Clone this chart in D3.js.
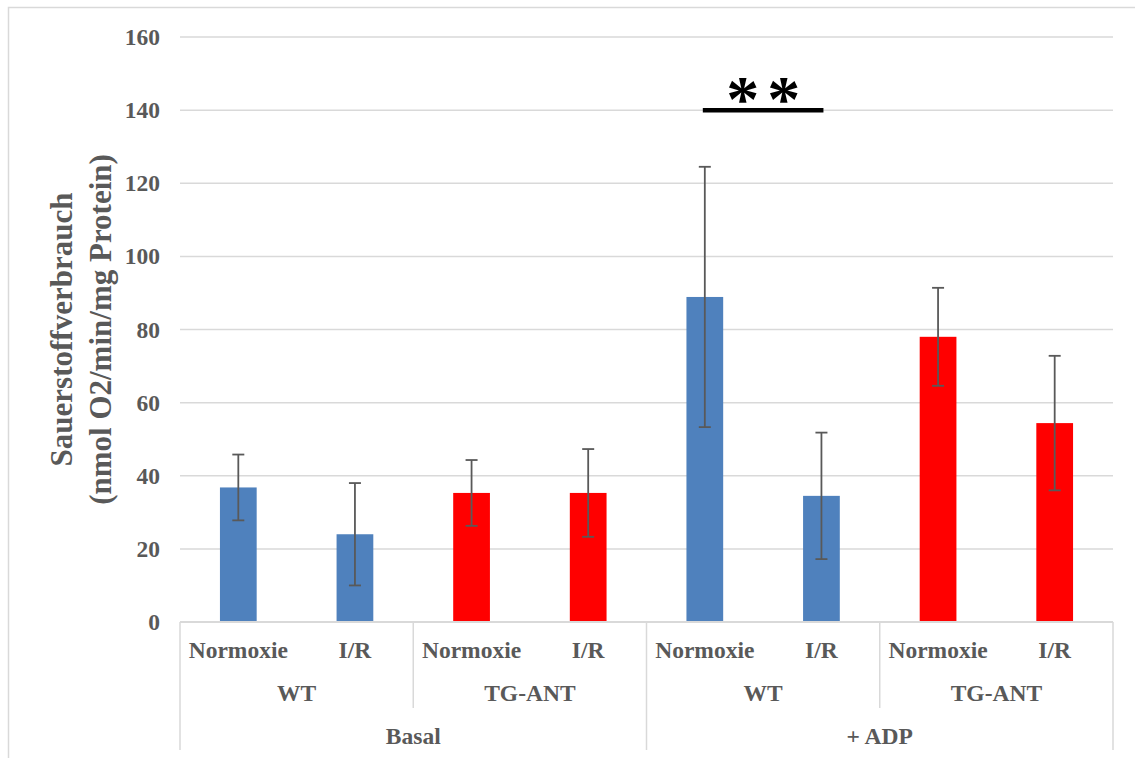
<!DOCTYPE html>
<html>
<head>
<meta charset="utf-8">
<script src="https://cdn.jsdelivr.net/npm/d3@7"></script>
<style>
  html, body { margin: 0; padding: 0; background: #fff; }
  svg { display: block; }
  text { font-family: "Liberation Serif", "Times New Roman", serif; font-weight: bold; }
</style>
</head>
<body>
<svg id="chart" width="1135" height="758"></svg>
<script>
// ---------- data ----------
const categories = ["Normoxie", "I/R", "Normoxie", "I/R", "Normoxie", "I/R", "Normoxie", "I/R"];
const genotypes = ["WT", "TG-ANT", "WT", "TG-ANT"];
const conditions = ["Basal", "+ ADP"];
const means = [36.8, 24.0, 35.3, 35.3, 88.9, 34.5, 78.0, 54.4];
const errors = [9.0, 14.0, 9.0, 12.0, 35.6, 17.3, 13.4, 18.4];
const genotypeOfBar = ["WT", "WT", "TG-ANT", "TG-ANT", "WT", "WT", "TG-ANT", "TG-ANT"];
const yTicks = [0, 20, 40, 60, 80, 100, 120, 140, 160];
const yTitle = ["Sauerstoffverbrauch", "(nmol O2/min/mg Protein)"];
const sigFrom = 4, sigTo = 5, sigValue = 140, sigLabel = "**";

// ---------- layout ----------
const W = 1135, H = 758;
const plotLeft = 180, plotRight = 1113, plotTop = 37, plotBottom = 622;
const textColor = "#595959";
const gridColor = "#d9d9d9";
const colorScale = d3.scaleOrdinal().domain(["WT", "TG-ANT"]).range(["#4f81bd", "#ff0000"]);

const svg = d3.select("#chart");

// outer border
svg.append("rect").attr("x", 8.5).attr("y", 7.5).attr("width", W).attr("height", H)
  .attr("fill", "none").attr("stroke", gridColor).attr("stroke-width", 1.5);

const x = d3.scaleBand().domain(d3.range(categories.length)).range([plotLeft, plotRight]).paddingInner(0).paddingOuter(0);
const y = d3.scaleLinear().domain([0, 160]).range([plotBottom, plotTop]);

// gridlines
svg.append("g").selectAll("line").data(yTicks.filter(d => d > 0)).join("line")
  .attr("x1", plotLeft).attr("x2", plotRight)
  .attr("y1", d => y(d)).attr("y2", d => y(d))
  .attr("stroke", gridColor).attr("stroke-width", 1.5);

// y axis tick labels
const yAxis = d3.axisLeft(y).tickValues(yTicks).tickSize(0).tickPadding(20);
const yg = svg.append("g").attr("transform", `translate(${plotLeft},0)`).call(yAxis);
yg.select(".domain").remove();
yg.selectAll("text").attr("font-size", "23.5px").attr("fill", textColor)
  .attr("font-family", "Liberation Serif, Times New Roman, serif").attr("font-weight", "bold");

// y axis title
const cy = (plotTop + plotBottom) / 2;
svg.append("g").selectAll("text").data(yTitle).join("text")
  .attr("transform", (d, i) => `translate(${72 + i * 39},${cy}) rotate(-90)`)
  .attr("text-anchor", "middle")
  .attr("font-size", "31px").attr("fill", textColor)
  .text(d => d);

// bars
const bw = x.bandwidth() * 0.315;
svg.append("g").selectAll("rect").data(means).join("rect")
  .attr("x", (d, i) => x(i) + x.bandwidth() / 2 - bw / 2)
  .attr("width", bw)
  .attr("y", d => y(d))
  .attr("height", d => y(0) - y(d))
  .attr("fill", (d, i) => colorScale(genotypeOfBar[i]));

// error bars
const eg = svg.append("g").attr("stroke", "#595959").attr("stroke-width", 1.8);
means.forEach((m, i) => {
  const cx = x(i) + x.bandwidth() / 2;
  const hi = y(m + errors[i]), lo = y(m - errors[i]);
  eg.append("line").attr("x1", cx).attr("x2", cx).attr("y1", hi).attr("y2", lo);
  eg.append("line").attr("x1", cx - 6).attr("x2", cx + 6).attr("y1", hi).attr("y2", hi);
  eg.append("line").attr("x1", cx - 6).attr("x2", cx + 6).attr("y1", lo).attr("y2", lo);
});

// x axis line
svg.append("line").attr("x1", plotLeft).attr("x2", plotRight).attr("y1", y(0)).attr("y2", y(0))
  .attr("stroke", gridColor).attr("stroke-width", 2);

// hierarchical axis separators
const lvl1Bottom = 708, lvl2Bottom = 750;
const groupBounds = d3.range(0, categories.length + 1, 2);
svg.append("g").selectAll("line").data(groupBounds).join("line")
  .attr("x1", d => d < categories.length ? x(d) : plotRight)
  .attr("x2", d => d < categories.length ? x(d) : plotRight)
  .attr("y1", y(0))
  .attr("y2", d => (d % 4 === 0) ? lvl2Bottom : lvl1Bottom)
  .attr("stroke", gridColor).attr("stroke-width", 1.5);

// category labels
svg.append("g").selectAll("text").data(categories).join("text")
  .attr("x", (d, i) => x(i) + x.bandwidth() / 2).attr("y", 658)
  .attr("text-anchor", "middle").attr("font-size", "23.5px").attr("fill", textColor)
  .text(d => d);

svg.append("g").selectAll("text").data(genotypes).join("text")
  .attr("x", (d, i) => x(i * 2) + x.bandwidth()).attr("y", 701)
  .attr("text-anchor", "middle").attr("font-size", "23.5px").attr("fill", textColor)
  .text(d => d);

svg.append("g").selectAll("text").data(conditions).join("text")
  .attr("x", (d, i) => x(i * 4) + x.bandwidth() * 2).attr("y", 744)
  .attr("text-anchor", "middle").attr("font-size", "23.5px").attr("fill", textColor)
  .text(d => d);

// significance marker
const sx1 = x(sigFrom) + x.bandwidth() / 2, sx2 = x(sigTo) + x.bandwidth() / 2;
svg.append("line").attr("x1", sx1 - 2).attr("x2", sx2 + 2)
  .attr("y1", y(sigValue)).attr("y2", y(sigValue))
  .attr("stroke", "#000").attr("stroke-width", 4.5);
svg.append("text").attr("x", (sx1 + sx2) / 2 + 4).attr("y", y(sigValue) + 11)
  .attr("text-anchor", "middle").attr("font-size", "66px").attr("fill", "#000")
  .attr("letter-spacing", "8px")
  .text(sigLabel);
</script>
</body>
</html>
